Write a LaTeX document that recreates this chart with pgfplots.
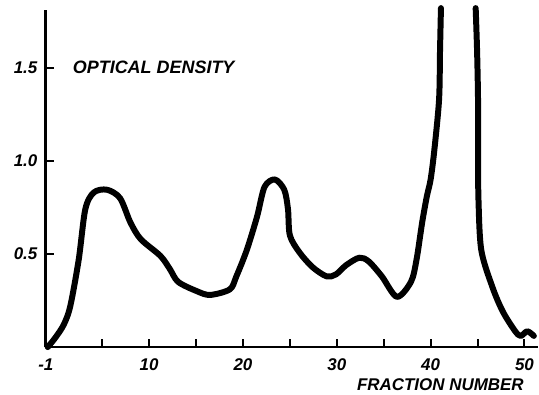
\documentclass[border=0pt]{standalone}
\usepackage{fontspec}
\setmainfont{Liberation Sans}
\usepackage{pgfplots}
\pgfplotsset{compat=1.18}
\newcommand{\lab}{\fontsize{17}{19}\selectfont\bfseries\itshape}
\newcommand{\labb}{\fontsize{18}{20}\selectfont\bfseries\itshape}
\begin{document}
\begin{tikzpicture}
\begin{axis}[
  scale only axis, width=493pt, height=338pt,
  xmin=-1, xmax=51.4, ymin=0, ymax=1.81,
  axis lines=left,
  axis line style={-, line width=2.8pt},
  xtick align=inside, ytick align=inside,
  major tick length=8pt,
  every tick/.style={black, line width=2pt},
  xtick={-1,5,10,15,20,25,30,35,40,45,50},
  xticklabels={-1,,10,,20,,30,,40,,50},
  ytick={0.5,1.0,1.5},
  yticklabels={0.5,1.0,1.5},
  ticklabel style={font=\lab},
  xticklabel style={yshift=-8pt},
  yticklabel style={xshift=-5pt},
  clip=false,
]
\addplot[black, line width=6pt, line cap=round, line join=round, smooth, tension=0.5] coordinates {
(-0.8,0) (0.0,0.05) (0.9,0.12) (1.6,0.22) (2.5,0.47) (3.2,0.74) (4.1,0.83) (5.5,0.845) (6.9,0.80) (8.0,0.67) (9.1,0.58) (11.2,0.49) (12.2,0.42) (13.1,0.35) (15.1,0.30) (16.5,0.28) (18.6,0.31) (19.3,0.38) (20.4,0.52) (21.5,0.70) (22.3,0.86) (23.4,0.90) (24.4,0.845) (24.8,0.74) (25.0,0.60) (26.0,0.51) (27.4,0.43) (28.9,0.38) (29.9,0.39) (31.0,0.44) (32.4,0.48) (33.4,0.46) (34.8,0.38) (36.4,0.27) (37.9,0.35) (38.5,0.47) (39.1,0.67) (39.6,0.81) (40.0,0.90) (40.4,1.06) (40.9,1.33) (41.0,1.59) (41.1,1.82)
};
\addplot[black, line width=6pt, line cap=round, line join=round, smooth, tension=0.5] coordinates {
(44.8,1.82) (44.95,1.59) (45.05,1.33) (45.05,1.06) (45.1,0.79) (45.4,0.52) (46.6,0.32) (47.7,0.19) (49.0,0.086) (49.6,0.06) (50.3,0.085) (51.0,0.06)
};
\node[anchor=west, font=\labb] at (axis cs:1.5,1.5) {OPTICAL DENSITY};
\node[anchor=east, font=\lab] at (axis cs:50.3,-0.2) {FRACTION NUMBER};
\end{axis}
\path[use as bounding box] (-46pt,-48pt) rectangle (493pt,348pt);
\end{tikzpicture}
\end{document}
